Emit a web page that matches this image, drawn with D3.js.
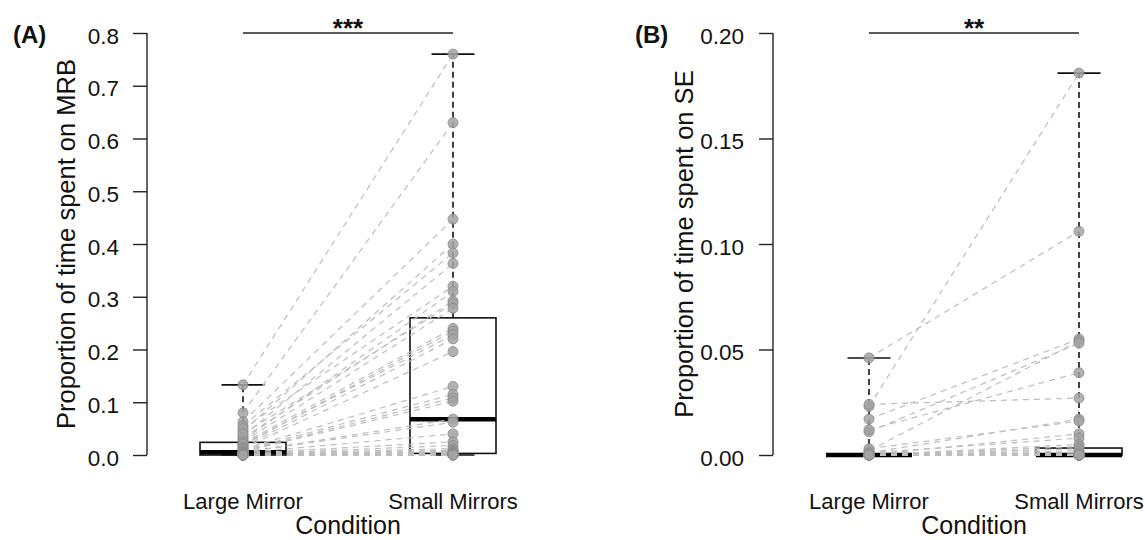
<!DOCTYPE html>
<html>
<head>
<meta charset="utf-8">
<script src="https://cdn.jsdelivr.net/npm/d3@7"></script>
<style>
  body { margin: 0; background: #fff; }
  text { font-family: "Liberation Sans", Arial, sans-serif; fill: #111; }
</style>
</head>
<body>
<div class="chart"></div>
<script>
// Data
const conditions = ['Large Mirror', 'Small Mirrors'];

// paired values, one entry per subject (Large Mirror -> Small Mirrors)
const mrbLarge = [0.133, 0.08, 0.063, 0.045, 0.055, 0.036, 0.05, 0.028, 0.032, 0.04, 0.025,
  0.022, 0.018, 0.02, 0.015, 0.013, 0.011, 0.009, 0.007, 0.006, 0.005, 0.005, 0.004, 0.003,
  0.002, 0.002, 0.001, 0.001, 0, 0, 0, 0, 0, 0, 0, 0, 0, 0, 0, 0, 0, 0];
const mrbSmall = [0.76, 0.63, 0.447, 0.40, 0.383, 0.363, 0.32, 0.31, 0.292, 0.287, 0.278,
  0.24, 0.235, 0.228, 0.22, 0.196, 0.13, 0.115, 0.108, 0.102, 0.068, 0.062, 0.04, 0.025,
  0.018, 0.012, 0.009, 0.007, 0.005, 0.004, 0.003, 0.003, 0.002, 0.002, 0.001, 0.001, 0, 0, 0, 0, 0, 0];

const seLarge = [0.023, 0.046, 0.017, 0.002, 0.011, 0.012, 0.024, 0.001, 0.003, 0, 0.001,
  0, 0, 0, 0, 0, 0, 0, 0, 0, 0, 0, 0, 0, 0, 0, 0, 0, 0, 0, 0, 0, 0, 0, 0, 0, 0, 0, 0, 0, 0, 0];
const seSmall = [0.181, 0.106, 0.055, 0.054, 0.053, 0.039, 0.027, 0.017, 0.016, 0.01, 0.008,
  0.005, 0.004, 0.003, 0.002, 0.001, 0.001, 0, 0, 0, 0, 0, 0, 0, 0, 0, 0, 0, 0, 0, 0, 0, 0, 0, 0, 0, 0, 0, 0, 0, 0, 0];

// box stats: [min, q1, median, q3, max]
const mrbBox = [[0, 0, 0.005, 0.024, 0.133], [0, 0.003, 0.068, 0.26, 0.76]];
const seBox = [[0, 0, 0, 0, 0.046], [0, 0, 0, 0.0033, 0.181]];

const mrbTicks = [0, 0.1, 0.2, 0.3, 0.4, 0.5, 0.6, 0.7, 0.8];
const seTicks = [0, 0.05, 0.10, 0.15, 0.20];

const panels = [
  { tag: '(A)', stars: '***', yTitle: 'Proportion of time spent on MRB', left: mrbLarge, right: mrbSmall,
    box: mrbBox, ticks: mrbTicks, fmt: d3.format('.1f'), axisX: 147, range: [243, 453], tagX: 13, titleX: 75, labelX: 119 },
  { tag: '(B)', stars: '**', yTitle: 'Proportion of time spent on SE', left: seLarge, right: seSmall,
    box: seBox, ticks: seTicks, fmt: d3.format('.2f'), axisX: 773, range: [869, 1079], tagX: 635, titleX: 693, labelX: 744 }
];

const width = 1145;
const height = 540;
const plotTop = 33;
const plotBottom = 455;

const svg = d3.select('.chart')
  .append('svg')
  .attr('width', width)
  .attr('height', height);

panels.forEach(p => {
  const g = svg.append('g');

  // Scales
  const x = d3.scalePoint().domain(conditions).range(p.range);
  const y = d3.scaleLinear().domain([0, d3.max(p.ticks)]).range([plotBottom, plotTop]);
  const half = 43;

  // Y axis, R style (ticks outward, labels horizontal)
  const axis = g.append('g')
    .attr('transform', `translate(${p.axisX},0)`)
    .call(d3.axisLeft(y).tickValues(p.ticks).tickSize(14).tickFormat(p.fmt));
  axis.select('.domain').attr('d', `M0,${y(0)}V${y(d3.max(p.ticks))}`).attr('stroke', '#222').attr('stroke-width', 1.4);
  axis.selectAll('.tick line').attr('stroke', '#222').attr('stroke-width', 1.4);
  axis.selectAll('.tick text')
    .attr('x', p.labelX - p.axisX)
    .attr('dy', '0.45em')
    .attr('text-anchor', 'end')
    .style('font-size', '22.5px')
    .style('font-family', '"Liberation Sans", Arial, sans-serif')
    .attr('fill', '#111');

  // Boxplots
  p.box.forEach((b, i) => {
    const cx = x(conditions[i]);
    const [mn, q1, med, q3, mx] = b;
    g.append('line').attr('x1', cx).attr('x2', cx).attr('y1', y(q3)).attr('y2', y(mx))
      .attr('stroke', '#111').attr('stroke-width', 1.6).attr('stroke-dasharray', '6,4');
    g.append('line').attr('x1', cx).attr('x2', cx).attr('y1', y(q1)).attr('y2', y(mn))
      .attr('stroke', '#111').attr('stroke-width', 1.6).attr('stroke-dasharray', '6,4');
    [mn, mx].forEach(v => {
      g.append('line').attr('x1', cx - half / 2).attr('x2', cx + half / 2).attr('y1', y(v)).attr('y2', y(v))
        .attr('stroke', '#111').attr('stroke-width', 1.6);
    });
    g.append('rect').attr('x', cx - half).attr('width', half * 2)
      .attr('y', y(q3)).attr('height', y(q1) - y(q3))
      .attr('fill', 'none').attr('stroke', '#111').attr('stroke-width', 1.6);
    g.append('line').attr('x1', cx - half).attr('x2', cx + half).attr('y1', y(med)).attr('y2', y(med))
      .attr('stroke', '#000').attr('stroke-width', 4.5);
  });

  // Paired lines
  const pairs = p.left.map((v, i) => [v, p.right[i]]);
  g.selectAll('.pair')
    .data(pairs)
    .enter().append('line')
    .attr('class', 'pair')
    .attr('x1', x(conditions[0]))
    .attr('x2', x(conditions[1]))
    .attr('y1', d => y(d[0]))
    .attr('y2', d => y(d[1]))
    .attr('stroke', '#bdbdbd')
    .attr('stroke-width', 1.2)
    .attr('stroke-dasharray', '6,5');

  // Points
  [p.left, p.right].forEach((vals, i) => {
    g.selectAll(null)
      .data(vals)
      .enter().append('circle')
      .attr('cx', x(conditions[i]))
      .attr('cy', d => y(d))
      .attr('r', 5)
      .attr('fill', '#a3a3a3')
      .attr('stroke', '#8a8a8a')
      .attr('stroke-width', 0.8)
      .attr('fill-opacity', 0.85);
  });

  // Significance bar
  g.append('line')
    .attr('x1', x(conditions[0])).attr('x2', x(conditions[1]))
    .attr('y1', plotTop).attr('y2', plotTop)
    .attr('stroke', '#222').attr('stroke-width', 1.5);
  g.append('text')
    .attr('x', (x(conditions[0]) + x(conditions[1])) / 2)
    .attr('y', 37)
    .attr('text-anchor', 'middle')
    .style('font-size', '26px')
    .style('font-weight', 'bold')
    .text(p.stars);

  // X labels
  conditions.forEach(c => {
    g.append('text')
      .attr('x', x(c)).attr('y', 509)
      .attr('text-anchor', 'middle')
      .style('font-size', '22px')
      .text(c);
  });
  g.append('text')
    .attr('x', (x(conditions[0]) + x(conditions[1])) / 2).attr('y', 534)
    .attr('text-anchor', 'middle')
    .style('font-size', '25px')
    .text('Condition');

  // Y title
  g.append('text')
    .attr('transform', `translate(${p.titleX},${(plotTop + plotBottom) / 2}) rotate(-90)`)
    .attr('text-anchor', 'middle')
    .style('font-size', '25.5px')
    .text(p.yTitle);

  // Panel tag
  g.append('text')
    .attr('x', p.tagX).attr('y', 43)
    .style('font-size', '24px')
    .style('font-weight', 'bold')
    .text(p.tag);
});
</script>
</body>
</html>
